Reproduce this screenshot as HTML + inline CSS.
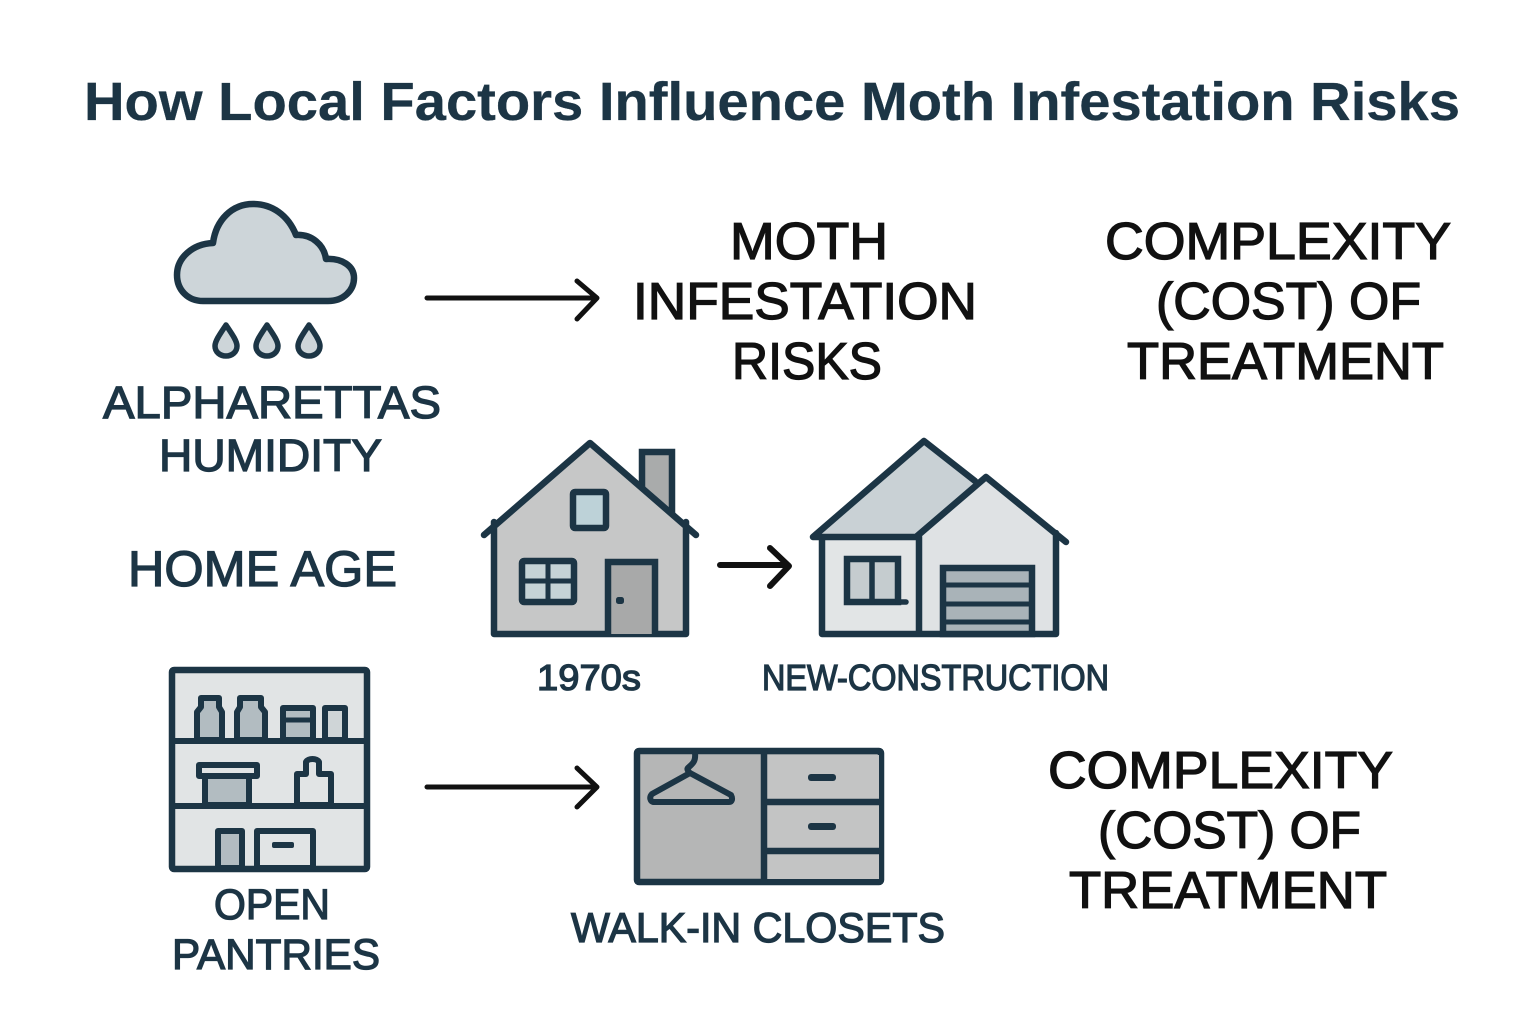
<!DOCTYPE html>
<html><head><meta charset="utf-8"><style>
html,body{margin:0;padding:0;background:#fff}
svg{display:block}
text{font-family:"Liberation Sans",sans-serif}
.t{fill:#1c3545;stroke:#1c3545;stroke-width:.3px}
.d{fill:#1c3545;stroke:#1c3545;stroke-width:1.3px}
.k{fill:#111;stroke:#111;stroke-width:1.3px}
.o{stroke:#1c3545;stroke-linejoin:round;stroke-linecap:round}
</style></head><body>
<svg width="1536" height="1024" viewBox="0 0 1536 1024" xmlns="http://www.w3.org/2000/svg">
<rect width="1536" height="1024" fill="#fff"/>
<text class="t" x="84" y="120" font-size="54" font-weight="700" textLength="1376" lengthAdjust="spacingAndGlyphs">How Local Factors Influence Moth Infestation Risks</text>

<!-- cloud -->
<path class="o" stroke-width="6.5" fill="#cdd5d9" d="M203 301H328C344 301 354 290 354 278C354 266 342 258 326 259C324 245 312 234 296 235C288 215 272 204 253 204C232 204 216 220 213 243C192 244 177 258 177 275C177 290 188 301 203 301Z"/>
<g class="o" stroke-width="5.5" fill="#cdd5d9">
<path d="M226 325C232 334 237 341 237 346C237 352 232 356 226 356C220 356 215 352 215 346C215 341 220 334 226 325Z"/>
<path d="M267 325C273 334 278 341 278 346C278 352 273 356 267 356C261 356 256 352 256 346C256 341 261 334 267 325Z"/>
<path d="M309 325C315 334 320 341 320 346C320 352 315 356 309 356C303 356 298 352 298 346C298 341 303 334 309 325Z"/>
</g>

<!-- arrows -->
<g fill="none" stroke="#111" stroke-width="5" stroke-linecap="round" stroke-linejoin="round">
<path d="M427 298H596M577 281L597 298L577 319"/>
<path d="M427 787H596M577 768L597 787L577 807"/>
</g>
<path d="M720 565H788M770 548L789 566L770 586" fill="none" stroke="#111" stroke-width="6" stroke-linecap="round" stroke-linejoin="round"/>

<!-- old house -->
<path d="M642 452H672V520H642Z" fill="#a9abab" stroke="#1c3545" stroke-width="6.5"/>
<path d="M494 634V524L590 446L686 524V634Z" fill="#c6c7c7"/>
<path class="o" fill="none" stroke-width="6.5" d="M484 535L590 443L696 535M494 522V634H686V522"/>
<rect x="573" y="492" width="33" height="36" rx="2" fill="#bdd2d8" stroke="#1c3545" stroke-width="6.5"/>
<rect x="522" y="561" width="52" height="41" rx="2" fill="#c5d3d6" stroke="#1c3545" stroke-width="6.5"/>
<path d="M548 561V602M522 581H574" stroke="#1c3545" stroke-width="5"/>
<path d="M608 634V562H655V634" fill="#a8a9a9" stroke="#1c3545" stroke-width="6.5"/>
<rect x="616" y="597" width="8" height="7" rx="2.5" fill="#1c3545"/>

<!-- new house -->
<path d="M815 537L924 444L978 484L919 537Z" fill="#c9d1d5"/>
<path d="M825 537H919V634H825Z" fill="#e2e5e6"/>
<path d="M919 537L986 480L1057 535V634H919Z" fill="#dfe2e4"/>
<path class="o" fill="none" stroke-width="6.5" d="M813 537L924 441L975 481M813 537H919M916 537L986 477L1066 542M822 537V634H1056V533M919 537V634"/>
<rect x="847" y="559" width="51" height="43" fill="#c5cccf" stroke="#1c3545" stroke-width="6.5"/>
<path d="M872 559V602M898 602H906" stroke="#1c3545" stroke-width="5.5" stroke-linecap="round"/>
<rect x="943" y="568" width="89" height="66" fill="#a9b3b8" stroke="#1c3545" stroke-width="6.5"/>
<path d="M943 585H1032M943 604H1032M943 622H1032" stroke="#1c3545" stroke-width="5"/>

<!-- pantry -->
<rect x="172" y="670" width="195" height="199" rx="2" fill="#e1e4e5" stroke="#1c3545" stroke-width="6.5"/>
<path d="M172 741H367M172 806H367" stroke="#1c3545" stroke-width="6"/>
<g stroke="#1c3545" stroke-width="6" stroke-linejoin="round">
<path d="M197 740V712L201 707V698H219V707L222 712V740Z" fill="#b2bcc1"/>
<path d="M237 740V712L240 707V698H261V707L265 712V740Z" fill="#b2bcc1"/>
<path d="M283 740V708H313V740Z" fill="#b2bcc1"/>
<path d="M283 720H313" stroke-width="5"/>
<path d="M325 740V708H345V740Z" fill="#cfd5d7"/>
<path d="M199 765H257V776H199Z" fill="#e1e4e5"/>
<path d="M205 776V805H249V776Z" fill="#b2bcc1"/>
<path d="M297 805V774H306V762C308 758 317 758 319 762V774H331V805Z" fill="#e1e4e5"/>
<path d="M218 868V831H242V868Z" fill="#b2bcc1"/>
<path d="M257 868V831H313V868Z" fill="#e1e4e5"/>
</g>
<rect x="272" y="842" width="22" height="6" rx="2" fill="#1c3545"/>

<!-- closet -->
<rect x="637" y="751" width="244" height="131" rx="2" fill="#b5b6b6" stroke="#1c3545" stroke-width="6.5"/>
<rect x="767" y="755" width="112" height="124" fill="#c3c4c4"/>
<path d="M764 751V882M764 802H881M764 851H881" stroke="#1c3545" stroke-width="6.5"/>
<rect x="808" y="774" width="28" height="7" rx="3" fill="#1c3545"/>
<rect x="808" y="823" width="28" height="7" rx="3" fill="#1c3545"/>
<path class="o" fill="none" stroke-width="6" d="M695 753C696 762 692 764 689 767C686 769 688 771 690 773L731 795C733 799 732 802 729 802H654C650 802 649 797 652 794L690 773"/>

<!-- labels -->
<g font-size="52">
<text class="k" x="730" y="259" textLength="158" lengthAdjust="spacingAndGlyphs">MOTH</text>
<text class="k" x="633" y="319" textLength="344" lengthAdjust="spacingAndGlyphs">INFESTATION</text>
<text class="k" x="732" y="379" textLength="150" lengthAdjust="spacingAndGlyphs">RISKS</text>
<text class="k" x="1105" y="259" textLength="346" lengthAdjust="spacingAndGlyphs">COMPLEXITY</text>
<text class="k" x="1156" y="319" textLength="265" lengthAdjust="spacingAndGlyphs">(COST) OF</text>
<text class="k" x="1127" y="379" textLength="317" lengthAdjust="spacingAndGlyphs">TREATMENT</text>
<text class="k" x="1048" y="788" textLength="345" lengthAdjust="spacingAndGlyphs">COMPLEXITY</text>
<text class="k" x="1098" y="848" textLength="263" lengthAdjust="spacingAndGlyphs">(COST) OF</text>
<text class="k" x="1069" y="908" textLength="318" lengthAdjust="spacingAndGlyphs">TREATMENT</text>
</g>
<text class="d" x="103" y="418" font-size="45" textLength="338" lengthAdjust="spacingAndGlyphs">ALPHARETTAS</text>
<text class="d" x="159" y="471" font-size="45" textLength="223" lengthAdjust="spacingAndGlyphs">HUMIDITY</text>
<text class="d" x="128" y="586" font-size="50" textLength="269" lengthAdjust="spacingAndGlyphs">HOME AGE</text>
<text class="d" x="537" y="690" font-size="36" textLength="104" lengthAdjust="spacingAndGlyphs">1970s</text>
<text class="d" x="762" y="690" font-size="36" textLength="347" lengthAdjust="spacingAndGlyphs">NEW-CONSTRUCTION</text>
<text class="d" x="214" y="919" font-size="43" textLength="116" lengthAdjust="spacingAndGlyphs">OPEN</text>
<text class="d" x="172" y="969" font-size="43" textLength="208" lengthAdjust="spacingAndGlyphs">PANTRIES</text>
<text class="d" x="571" y="942" font-size="42" textLength="374" lengthAdjust="spacingAndGlyphs">WALK-IN CLOSETS</text>
</svg>
</body></html>
